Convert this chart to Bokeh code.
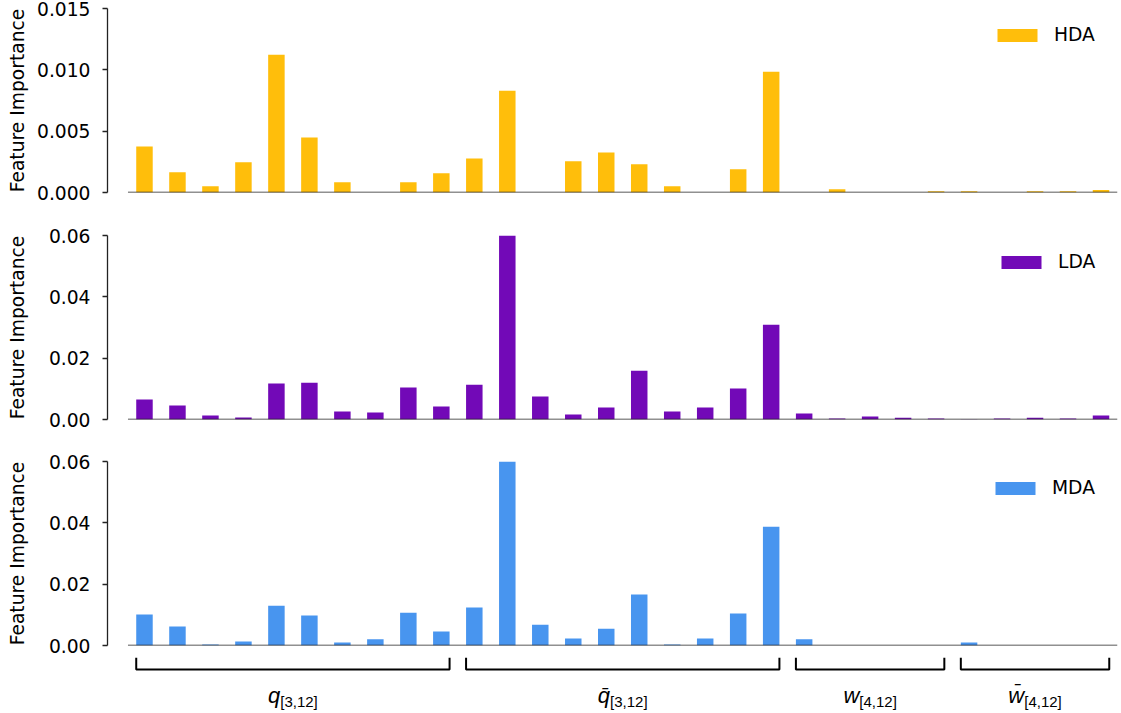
from bokeh.plotting import figure
from bokeh.layouts import column
from bokeh.models import Range1d, FixedTicker, NumeralTickFormatter, LinearAxis
from bokeh.core.properties import value
from bokeh.embed import file_html
from bokeh.resources import INLINE

# ---------------- data ----------------
features = ([f"q{l}" for l in range(3, 13)] + [f"qbar{l}" for l in range(3, 13)] +
            [f"w{l}" for l in (4, 6, 8, 10, 12)] + [f"wbar{l}" for l in (4, 6, 8, 10, 12)])

hda = [0.00376, 0.00165, 0.00051, 0.00246, 0.01122, 0.00449, 0.00084, 0.0, 0.00084, 0.00157,
       0.00278, 0.00830, 0.0, 0.00254, 0.00327, 0.00230, 0.00051, 0.0, 0.00189, 0.00984,
       0.0, 0.00027, 0.0, 0.0, 0.00010, 0.00010, 0.0, 0.00010, 0.00010, 0.00020]
lda = [0.0065, 0.00455, 0.0013, 0.00065, 0.0117, 0.0120, 0.0026, 0.00227, 0.0104, 0.0042,
       0.01137, 0.0601, 0.00747, 0.0016, 0.0039, 0.0159, 0.0026, 0.0039, 0.0101, 0.0309,
       0.00195, 0.0003, 0.0010, 0.0006, 0.0003, 0.0001, 0.0003, 0.0006, 0.0003, 0.0013]
mda = [0.0101, 0.0062, 0.0003, 0.0013, 0.0130, 0.0098, 0.0010, 0.0020, 0.0107, 0.0046,
       0.0124, 0.0602, 0.0068, 0.0023, 0.0055, 0.0166, 0.0003, 0.0023, 0.0104, 0.0387,
       0.0020, 0.0, 0.0, 0.0, 0.0, 0.0010, 0.0, 0.0, 0.0, 0.0]

series_names = ["HDA", "LDA", "MDA"]
series_colors = ["#FFBE0B", "#7209B7", "#4895EF"]

top_ticks = [0.0, 0.005, 0.010, 0.015]
low_ticks = [0.0, 0.02, 0.04, 0.06]

group_symbols = ["q", "q\u0304", "w", "w\u0304"]
group_subscripts = ["[3,12]", "[3,12]", "[4,12]", "[4,12]"]
group_sizes = [10, 10, 5, 5]

# ---------------- layout constants ----------------
W = 1121
FRAME_H = 184
LEFT = 107
RIGHT = 4
BAR_W = 0.5
N = len(features)
XR = (-1.121, N - 0.5)
AX_COLOR = "#222222"
FONT = "DejaVu Sans"
FS = "18.7px"
LEGEND_X = {"HDA": 885, "LDA": 889, "MDA": 883}
LEGEND_TOP_GAP = 15
LEGEND_ITEM_H = 22


def make_panel(vals, color, name, ticks, fmt, border_top, border_bottom, label_standoff):
    ymax = ticks[-1]
    p = figure(width=W, height=border_top + FRAME_H + border_bottom,
               x_range=Range1d(*XR), y_range=Range1d(0, ymax),
               output_backend="svg", toolbar_location=None,
               x_axis_location=None, y_axis_location=None,
               min_border_left=LEFT, min_border_right=RIGHT,
               min_border_top=border_top, min_border_bottom=border_bottom)
    p.outline_line_color = None
    p.xgrid.visible = False
    p.ygrid.visible = False

    ax = LinearAxis(ticker=FixedTicker(ticks=ticks), formatter=NumeralTickFormatter(format=fmt))
    ax.axis_label = "Feature Importance"
    ax.axis_label_text_font = FONT
    ax.axis_label_text_font_size = FS
    ax.axis_label_text_font_style = "normal"
    ax.axis_label_text_color = "black"
    ax.axis_label_standoff = label_standoff
    ax.major_label_text_font = FONT
    ax.major_label_text_font_size = FS
    ax.major_label_text_color = "black"
    ax.major_label_standoff = 12
    ax.major_tick_out = 5
    ax.major_tick_in = 0
    ax.minor_tick_out = 0
    ax.minor_tick_in = 0
    ax.axis_line_color = AX_COLOR
    ax.axis_line_width = 1.3
    ax.major_tick_line_color = AX_COLOR
    ax.major_tick_line_width = 1.3
    p.add_layout(ax, "left")

    xs = list(range(len(vals)))
    p.vbar(x=xs, top=vals, width=BAR_W, bottom=0, fill_color=color, line_color=None,
           legend_label=name)
    # bottom spine spanning the data range
    p.segment(x0=[-0.5], y0=[0], x1=[len(vals) - 0.5], y1=[0],
              line_color=AX_COLOR, line_width=1.6)

    lg = p.legend[0]
    lg.location = (LEGEND_X[name], FRAME_H - LEGEND_TOP_GAP - LEGEND_ITEM_H)
    lg.margin = 0
    lg.padding = 0
    lg.spacing = 0
    lg.border_line_color = None
    lg.background_fill_alpha = 0
    lg.glyph_width = 50
    lg.glyph_height = 16
    lg.label_standoff = 12
    lg.label_text_font = FONT
    lg.label_text_font_size = FS
    lg.label_text_color = "black"
    return p


p1 = make_panel(hda, series_colors[0], series_names[0], top_ticks, "0.000", 8, 21, 6)
p2 = make_panel(lda, series_colors[1], series_names[1], low_ticks, "0.00", 22, 21, 18)
p3 = make_panel(mda, series_colors[2], series_names[2], low_ticks, "0.00", 21, 12, 18)

# ---------------- group brackets under the last panel ----------------
BR_H = 713 - (213 + 227 + 217)
pb = figure(width=W, height=BR_H, x_range=Range1d(*XR), y_range=Range1d(start=BR_H, end=0),
            output_backend="svg", toolbar_location=None,
            x_axis_location=None, y_axis_location=None,
            min_border_left=LEFT, min_border_right=RIGHT, min_border_top=0, min_border_bottom=0)
pb.outline_line_color = None
pb.xgrid.visible = False
pb.ygrid.visible = False

y_tick_top = 0
y_line = 12
y_main = 37.5
y_sub = 44

main_w = {"q": 0.556 * 22, "w": 0.722 * 22}
sub_fs = 15
start = 0
for sym, sub, size in zip(group_symbols, group_subscripts, group_sizes):
    x0 = start - BAR_W / 2
    x1 = start + size - 1 + BAR_W / 2
    pb.multi_line(xs=[[x0, x0, x1, x1]], ys=[[y_tick_top, y_line, y_line, y_tick_top]],
                  line_color="black", line_width=2)
    xc = (x0 + x1) / 2
    mw = main_w[sym[0]]
    sw = 2.502 * sub_fs
    d = (mw - sw) / 2
    pb.text(x=[xc], y=[y_main], text=[sym], text_font=value("Liberation Sans"),
            text_font_style="italic", text_font_size="22px", text_align="right",
            text_baseline="alphabetic", x_offset=d, text_color="black")
    pb.text(x=[xc], y=[y_sub], text=[sub], text_font=value("Liberation Sans"),
            text_font_size=f"{sub_fs}px", text_align="left",
            text_baseline="alphabetic", x_offset=d, text_color="black")
    start += size

layout = column(p1, p2, p3, pb, spacing=0)
open("out.html", "w").write(file_html(layout, INLINE))
